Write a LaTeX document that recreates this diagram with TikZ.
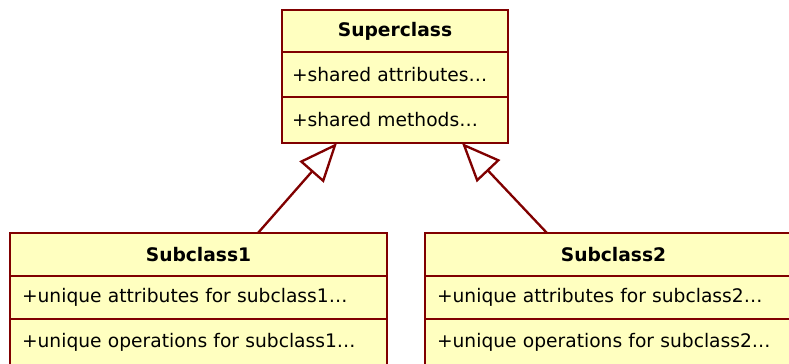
\documentclass[tikz,border=0pt]{standalone}
\usepackage{fontspec}
\setmainfont{DejaVu Sans}
\usetikzlibrary{positioning,arrows.meta}

\definecolor{umlred}{RGB}{128,0,0}
\definecolor{umlfill}{RGB}{255,255,192}

\tikzset{
  classbox/.style={draw=umlred, fill=umlfill, line width=1.75pt, inner ysep=0pt, outer sep=0pt,
    anchor=north west, font=\fontsize{14}{16}\selectfont, align=left},
  superbox/.style={classbox, text width=154.5pt, inner xsep=7.5pt},
  subbox/.style={classbox, text width=264.75pt, inner xsep=9pt},
  classname/.style={align=center, font=\fontsize{14}{16}\selectfont\bfseries},
  generalize/.style={draw=umlred, line width=1.75pt, -{Triangle[open, length=29pt, width=24pt]}}
}

\begin{document}
\begin{tikzpicture}[x=0.75pt, y=-0.75pt]

\useasboundingbox (0,0) rectangle (789,364);
\clip (0,0) rectangle (789,364);

% draw superclass
\node [superbox, classname, minimum height=31.5pt] (suphead) at (282,10) {Superclass};
\node [superbox, minimum height=33.75pt, below=0pt of suphead] (supattr) {+shared attributes…};
\node [superbox, minimum height=34.5pt, below=0pt of supattr] (supops) {+shared methods…};

% draw subclasses
\node [subbox, classname, minimum height=32.25pt] (sub1head) at (10,233) {Subclass1};
\node [subbox, minimum height=32.25pt, below=0pt of sub1head] (sub1attr) {+unique attributes for subclass1…};
\node [subbox, minimum height=34.5pt, below=0pt of sub1attr] (sub1ops) {+unique operations for subclass1…};

\node [subbox, classname, minimum height=32.25pt] (sub2head) at (425,233) {Subclass2};
\node [subbox, minimum height=32.25pt, below=0pt of sub2head] (sub2attr) {+unique attributes for subclass2…};
\node [subbox, minimum height=34.5pt, below=0pt of sub2attr] (sub2ops) {+unique operations for subclass2…};

% draw generalization arrows
\draw [generalize] ([xshift=44.6pt]sub1head.north) -- ([xshift=-43.5pt]supops.south);
\draw [generalize] ([xshift=-49.9pt]sub2head.north) -- ([xshift=50.25pt]supops.south);

\end{tikzpicture}
\end{document}
